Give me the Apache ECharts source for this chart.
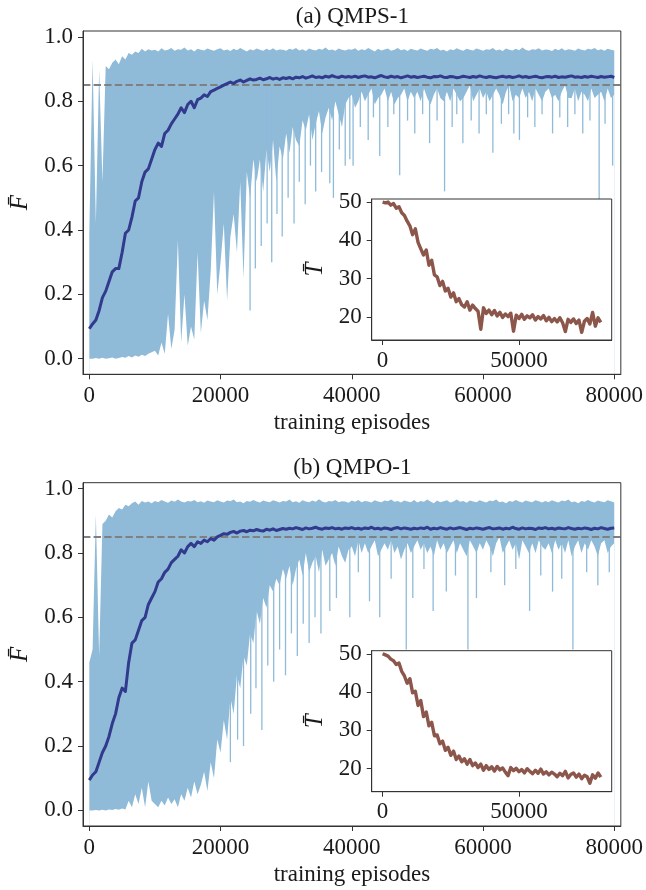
<!DOCTYPE html>
<html><head><meta charset="utf-8">
<script src="https://cdn.jsdelivr.net/npm/echarts@6/dist/echarts.min.js"></script>
<style>html,body{margin:0;padding:0;background:#fff}#c{width:646px;height:890px}</style>
</head><body><div id="c"></div>
<script>
// ---------------- data ----------------
const STEP_MAIN = 500;    // episodes between samples of the main curves
const STEP_INSET = 1000;  // episodes between samples of the inset curves
const xTicks = [0, 20000, 40000, 60000, 80000];
const yTicks = [0, 0.2, 0.4, 0.6, 0.8, 1.0];
const insetXTicks = [0, 50000];
const insetYTicks = [20, 30, 40, 50];
const threshold = 0.85;
const titles = ['(a) QMPS-1', '(b) QMPO-1'];
const xLabel = 'training episodes';
const yLabel = 'F\u0304';
const insetYLabel = 'T\u0304';

const meanA = [
0.093,0.108,0.12,0.15,0.19,0.21,0.24,0.27,0.28,0.28,0.33,0.39,0.40,0.44,0.49,0.50,0.55,0.58,0.59,0.62,
0.65,0.67,0.66,0.70,0.71,0.73,0.745,0.76,0.78,0.765,0.79,0.80,0.78,0.805,0.81,0.82,0.815,0.83,0.835,0.84,
0.845,0.85,0.855,0.86,0.855,0.862,0.866,0.86,0.865,0.87,0.866,0.868,0.872,0.867,0.87,0.874,0.869,0.872,0.868,0.873,
0.871,0.874,0.87,0.875,0.873,0.877,0.872,0.875,0.879,0.874,0.876,0.873,0.878,0.875,0.88,0.876,0.874,0.878,0.875,0.877,
0.875,0.878,0.874,0.877,0.879,0.875,0.876,0.873,0.877,0.88,0.876,0.874,0.878,0.875,0.877,0.873,0.876,0.879,0.875,0.877,
0.874,0.876,0.878,0.875,0.873,0.877,0.876,0.879,0.875,0.874,0.877,0.876,0.873,0.875,0.878,0.876,0.874,0.877,0.875,0.879,
0.876,0.874,0.877,0.875,0.873,0.876,0.878,0.875,0.877,0.874,0.876,0.879,0.875,0.877,0.874,0.876,0.878,0.875,0.873,0.876,
0.877,0.875,0.878,0.874,0.876,0.875,0.877,0.879,0.875,0.876,0.874,0.877,0.875,0.878,0.876,0.874,0.877,0.875,0.876,0.878,
0.874];
const upperA = [
0.39,0.93,0.42,0.90,0.55,0.91,0.90,0.92,0.93,0.915,0.94,0.93,0.95,0.945,0.955,0.95,0.963,0.955,0.962,0.958,
0.96,0.955,0.965,0.958,0.96,0.966,0.957,0.962,0.96,0.967,0.958,0.962,0.955,0.963,0.96,0.958,0.964,0.96,0.957,0.962,
0.965,0.958,0.961,0.956,0.963,0.959,0.966,0.96,0.955,0.962,0.958,0.964,0.96,0.957,0.963,0.959,0.965,0.958,0.961,0.96,
0.957,0.963,0.96,0.966,0.958,0.962,0.956,0.964,0.96,0.958,0.963,0.96,0.967,0.959,0.961,0.957,0.964,0.96,0.958,0.962,
0.96,0.965,0.957,0.962,0.959,0.966,0.96,0.955,0.963,0.958,0.961,0.964,0.957,0.96,0.966,0.959,0.962,0.956,0.963,0.96,
0.958,0.964,0.96,0.957,0.963,0.961,0.966,0.958,0.96,0.955,0.962,0.959,0.965,0.96,0.957,0.963,0.96,0.958,0.964,0.961,
0.957,0.962,0.96,0.966,0.958,0.961,0.956,0.964,0.96,0.958,0.963,0.959,0.967,0.96,0.957,0.962,0.96,0.965,0.958,0.961,
0.96,0.956,0.963,0.959,0.965,0.958,0.962,0.96,0.957,0.964,0.96,0.958,0.963,0.961,0.966,0.959,0.962,0.957,0.963,0.96,
0.958];
const lowerA = [
0.0,0.0,0.002,0.0,0.003,0.0,0.001,0.004,0.0,0.002,0.005,0.003,0.008,0.004,0.01,0.006,0.012,0.008,0.015,0.02,
0.025,0.01,0.05,0.015,0.14,0.03,0.09,0.37,0.05,0.20,0.04,0.10,0.06,0.33,0.08,0.18,0.12,0.27,0.52,0.20,
0.30,0.42,0.18,0.38,0.45,0.33,0.55,0.25,0.58,0.50,0.62,0.55,0.62,0.52,0.65,0.58,0.68,0.55,0.66,0.62,
0.70,0.64,0.72,0.68,0.66,0.74,0.71,0.76,0.68,0.73,0.77,0.70,0.75,0.78,0.74,0.80,0.76,0.72,0.79,0.81,
0.82,0.78,0.80,0.83,0.80,0.82,0.84,0.79,0.81,0.82,0.84,0.80,0.83,0.79,0.81,0.82,0.84,0.80,0.83,0.81,
0.83,0.80,0.84,0.81,0.79,0.82,0.84,0.81,0.80,0.83,0.80,0.84,0.82,0.80,0.81,0.83,0.85,0.80,0.82,0.84,
0.81,0.83,0.80,0.82,0.84,0.82,0.79,0.83,0.85,0.80,0.82,0.81,0.84,0.81,0.83,0.80,0.84,0.82,0.80,0.83,
0.84,0.81,0.82,0.80,0.83,0.85,0.81,0.81,0.84,0.80,0.83,0.82,0.80,0.84,0.81,0.82,0.83,0.80,0.84,0.81,
0.82];
// single-episode drops of the lower bound: [episode, value]
const spikesA = [
[24500,0.15],[25300,0.28],[26200,0.35],[27100,0.42],[27800,0.30],[28600,0.45],[29400,0.38],[30300,0.50],
[31200,0.42],[32000,0.55],[32900,0.48],[33700,0.60],[34500,0.52],[35400,0.58],[36650,0.545],[37200,0.50],
[38100,0.65],[39000,0.60],[39700,0.62],[40200,0.60],[41300,0.72],[42500,0.68],[43300,0.75],[44260,0.63],
[45500,0.72],[46400,0.76],[47300,0.57],[48500,0.74],[49600,0.70],[50800,0.76],[51860,0.67],[53000,0.74],
[54140,0.52],[55300,0.72],[56000,0.76],[56930,0.67],[58200,0.74],[59400,0.70],[60500,0.76],[61500,0.64],
[62800,0.73],[63900,0.76],[64700,0.70],[65550,0.68],[66800,0.75],[67900,0.72],[69000,0.76],[70600,0.70],
[71700,0.75],[72900,0.72],[74000,0.76],[75200,0.70],[76300,0.74],[77700,0.45],[78600,0.73],[79750,0.60]];

const meanB = [
0.094,0.11,0.12,0.15,0.18,0.20,0.23,0.27,0.30,0.35,0.38,0.37,0.46,0.52,0.53,0.56,0.59,0.60,0.64,0.66,
0.68,0.71,0.72,0.74,0.75,0.77,0.78,0.79,0.81,0.80,0.82,0.83,0.82,0.835,0.83,0.84,0.835,0.845,0.84,0.85,
0.855,0.86,0.858,0.864,0.867,0.862,0.868,0.87,0.866,0.871,0.869,0.873,0.87,0.868,0.874,0.871,0.875,0.87,0.873,0.876,
0.874,0.877,0.875,0.879,0.876,0.873,0.878,0.875,0.877,0.88,0.876,0.874,0.878,0.876,0.879,0.875,0.877,0.874,0.878,0.876,
0.879,0.875,0.877,0.874,0.878,0.876,0.88,0.875,0.877,0.874,0.878,0.876,0.873,0.877,0.879,0.875,0.878,0.876,0.874,0.877,
0.875,0.878,0.876,0.88,0.874,0.877,0.875,0.879,0.876,0.874,0.878,0.875,0.877,0.879,0.876,0.873,0.877,0.875,0.878,0.876,
0.874,0.877,0.879,0.875,0.876,0.878,0.874,0.877,0.875,0.88,0.876,0.874,0.878,0.875,0.877,0.876,0.873,0.878,0.876,0.879,
0.875,0.877,0.874,0.878,0.876,0.875,0.879,0.876,0.874,0.877,0.875,0.878,0.876,0.873,0.877,0.875,0.879,0.876,0.874,0.877,
0.878];
const upperB = [
0.46,0.50,0.92,0.48,0.89,0.90,0.92,0.91,0.93,0.94,0.935,0.95,0.945,0.955,0.96,0.95,0.962,0.957,0.96,0.955,
0.962,0.958,0.965,0.96,0.956,0.963,0.959,0.966,0.96,0.957,0.962,0.96,0.965,0.958,0.961,0.956,0.963,0.96,0.958,0.964,
0.96,0.957,0.963,0.961,0.966,0.958,0.96,0.955,0.962,0.959,0.965,0.96,0.957,0.963,0.96,0.958,0.964,0.961,0.957,0.962,
0.96,0.966,0.958,0.961,0.956,0.964,0.96,0.958,0.963,0.959,0.967,0.96,0.957,0.962,0.96,0.965,0.958,0.961,0.96,0.956,
0.963,0.959,0.965,0.958,0.962,0.96,0.957,0.964,0.96,0.958,0.963,0.961,0.966,0.959,0.962,0.957,0.963,0.96,0.958,0.965,
0.957,0.962,0.959,0.966,0.96,0.955,0.963,0.958,0.961,0.964,0.957,0.96,0.966,0.959,0.962,0.956,0.963,0.96,0.958,0.964,
0.96,0.957,0.963,0.961,0.966,0.958,0.96,0.955,0.962,0.959,0.965,0.96,0.957,0.963,0.96,0.958,0.964,0.961,0.957,0.962,
0.958,0.964,0.96,0.957,0.963,0.961,0.966,0.958,0.96,0.955,0.962,0.959,0.965,0.96,0.957,0.963,0.96,0.958,0.964,0.961,
0.957];
const lowerB = [
0.0,0.0,0.001,0.0,0.002,0.0,0.003,0.001,0.004,0.002,0.006,0.003,0.03,0.01,0.05,0.02,0.07,0.01,0.09,0.03,
0.02,0.01,0.03,0.015,0.04,0.02,0.035,0.01,0.05,0.03,0.07,0.04,0.09,0.05,0.08,0.12,0.06,0.15,0.10,0.22,
0.18,0.28,0.22,0.35,0.30,0.42,0.38,0.48,0.45,0.55,0.52,0.62,0.58,0.66,0.63,0.70,0.68,0.72,0.70,0.75,
0.72,0.76,0.70,0.75,0.78,0.73,0.80,0.74,0.77,0.79,0.74,0.81,0.76,0.78,0.80,0.76,0.82,0.79,0.77,0.81,
0.82,0.79,0.84,0.80,0.83,0.80,0.82,0.84,0.79,0.81,0.83,0.81,0.84,0.80,0.82,0.78,0.81,0.83,0.80,0.82,
0.84,0.81,0.83,0.80,0.82,0.79,0.84,0.81,0.83,0.80,0.82,0.84,0.80,0.83,0.81,0.79,0.84,0.82,0.80,0.83,
0.81,0.84,0.82,0.79,0.83,0.85,0.80,0.82,0.84,0.81,0.83,0.78,0.84,0.82,0.80,0.83,0.80,0.84,0.82,0.81,
0.83,0.80,0.84,0.81,0.83,0.80,0.84,0.79,0.82,0.84,0.80,0.83,0.81,0.84,0.82,0.79,0.83,0.84,0.80,0.82,
0.83];
const spikesB = [
[21500,0.15],[22600,0.22],[23500,0.20],[24600,0.30],[25400,0.38],[26300,0.25],[27200,0.45],[28100,0.40],
[29000,0.50],[29900,0.42],[30800,0.55],[31700,0.48],[32600,0.58],[33500,0.52],[34400,0.60],[35300,0.55],
[36650,0.62],[37660,0.66],[39700,0.60],[41000,0.74],[42700,0.65],[44260,0.60],[46000,0.72],[48300,0.50],
[49300,0.66],[51000,0.75],[52400,0.62],[54400,0.68],[55800,0.73],[57700,0.50],[59000,0.66],[61200,0.74],
[63300,0.70],[65000,0.75],[67100,0.62],[68800,0.73],[70600,0.68],[72000,0.72],[73700,0.50],[75800,0.74],
[77500,0.70],[79240,0.74]];

const stepsA = [
50,49.8,50,49.2,49.6,48.4,48.8,47.2,46.5,45,43.8,41.5,43,39.5,37.8,36.2,37.5,33.5,34.8,31,
30.5,28.2,29.3,26.8,27.5,25.2,26.3,24,24.8,23.2,22.6,24,21.8,23.1,22.2,21.5,16.8,22.4,20.9,21.8,
20.6,21.7,20.3,21.2,19.9,20.8,20.1,21,16.3,20.5,19.6,20.7,19.4,20.3,19.8,20.6,19.2,20.1,19.5,20.4,
19,19.9,18.8,19.6,18.7,19.8,18.5,16.2,19.4,18.6,19.5,18.3,19.2,16,18.9,19.6,18.2,21.2,17.6,19.8,18.6];
const stepsB = [
50,49.7,49.4,48.6,48.2,47.2,47.6,45.4,44.2,42.3,43.5,39.8,40.2,36.5,37.8,33.6,34.8,31.2,32.1,28.6,
28.8,26.5,27.2,24.8,25.6,23.5,24.6,22.4,23.3,21.8,22.6,21.2,22.4,20.8,21.5,20.3,21.2,19.6,20.8,19.8,
20.5,19.4,20.6,19.7,20.2,19.1,18.2,20.3,19.5,20.1,19.2,19.8,18.9,20,19.3,18.7,19.6,18.8,19.9,18.6,
19.2,18.4,19.1,18.6,17.9,18.8,18.2,19.3,17.6,18.5,18.9,17.8,18.6,17.4,18.3,17.9,16.2,18.4,17.5,18.9,17.8];

// ---------------- styling / layout ----------------
const FONT = "'Liberation Serif', 'DejaVu Serif', serif";
const TXT = '#1a1a1a', AX = '#333';
const BAND = '#8fbbd9', MEAN = '#313a8c', BROWN = '#8c564b';
const SPIKE_TOP = 0.9;
const panels = [
  {mean: meanA, upper: upperA, lower: lowerA, spikes: spikesA, steps: stepsA, top: 31,    insetTop: 199},
  {mean: meanB, upper: upperB, lower: lowerB, spikes: spikesB, steps: stepsB, top: 482.7, insetTop: 650.7}
];
const pairs = (arr, step) => arr.map((v, i) => [i * step, v]);
const plain = v => String(v);

const grid = [], xAxis = [], yAxis = [], series = [], graphic = [];
panels.forEach((p, k) => {
  const gMain = grid.length, gIn = gMain + 1;
  grid.push({left: 82.7, top: p.top, width: 539.3, height: 343.3, show: true,
             borderColor: AX, borderWidth: 1, backgroundColor: 'transparent', z: 8});
  grid.push({left: 371.7, top: p.insetTop, width: 240, height: 141, show: true,
             borderColor: AX, borderWidth: 1, backgroundColor: '#fff', z: 10});
  const lab = {color: TXT, fontFamily: FONT, fontSize: 23};
  xAxis.push({gridIndex: gMain, type: 'value', min: -960, max: 81000, z: 9,
    axisLine: {show: true, onZero: false, lineStyle: {color: AX, width: 1}},
    axisTick: {show: true, customValues: xTicks, length: 5, lineStyle: {color: AX}},
    axisLabel: Object.assign({customValues: xTicks, margin: 10, formatter: plain}, lab),
    splitLine: {show: false},
    name: xLabel, nameLocation: 'middle', nameGap: 37,
    nameTextStyle: {color: TXT, fontFamily: FONT, fontSize: 23}});
  yAxis.push({gridIndex: gMain, type: 'value', min: -0.0485, max: 1.0185, z: 9,
    axisLine: {show: true, onZero: false, lineStyle: {color: AX, width: 1}},
    axisTick: {show: true, customValues: yTicks, length: 5, lineStyle: {color: AX}},
    axisLabel: Object.assign({customValues: yTicks, margin: 10, formatter: v => v.toFixed(1)}, lab),
    splitLine: {show: false},
    name: yLabel, nameLocation: 'middle', nameGap: 50, nameRotate: 90,
    nameTextStyle: {color: TXT, fontFamily: FONT, fontSize: 25, fontStyle: 'italic'}});
  xAxis.push({gridIndex: gIn, type: 'value', min: -4000, max: 84000, z: 12,
    axisLine: {show: true, onZero: false, lineStyle: {color: AX, width: 1}},
    axisTick: {show: true, customValues: insetXTicks, length: 5, lineStyle: {color: AX}},
    axisLabel: Object.assign({customValues: insetXTicks, margin: 9, formatter: plain}, lab),
    splitLine: {show: false}});
  yAxis.push({gridIndex: gIn, type: 'value', min: 14, max: 50.8, z: 12,
    axisLine: {show: true, onZero: false, lineStyle: {color: AX, width: 1}},
    axisTick: {show: true, customValues: insetYTicks, length: 5, lineStyle: {color: AX}},
    axisLabel: Object.assign({customValues: insetYTicks, margin: 10, formatter: plain}, lab),
    splitLine: {show: false},
    name: insetYLabel, nameLocation: 'middle', nameGap: 44, nameRotate: 90,
    nameTextStyle: {color: TXT, fontFamily: FONT, fontSize: 25, fontStyle: 'italic'}});

  const common = {type: 'line', xAxisIndex: gMain, yAxisIndex: gMain, symbol: 'none',
                  showSymbol: false, silent: true, animation: false};
  series.push(Object.assign({}, common, {
    data: pairs(p.upper, STEP_MAIN), z: 2,
    lineStyle: {width: 0, opacity: 0},
    areaStyle: {color: BAND, opacity: 1, origin: 'start'},
    markLine: {silent: true, symbol: 'none', z: 5, label: {show: false},
      lineStyle: {color: '#808080', type: [7.4, 3.2], width: 2},
      data: [{yAxis: threshold}]}
  }));
  series.push(Object.assign({}, common, {
    data: pairs(p.lower, STEP_MAIN), z: 3,
    lineStyle: {width: 0, opacity: 0},
    areaStyle: {color: '#ffffff', opacity: 1, origin: 'start'}
  }));
  series.push({type: 'custom', xAxisIndex: gMain, yAxisIndex: gMain, silent: true, animation: false, z: 4,
    data: p.spikes,
    renderItem: (params, api) => {
      const a = api.coord([api.value(0), api.value(1)]);
      const b = api.coord([api.value(0), SPIKE_TOP]);
      return {type: 'line', shape: {x1: a[0], y1: a[1], x2: b[0], y2: b[1]},
              style: {stroke: BAND, lineWidth: 1.3}};
    }});
  series.push(Object.assign({}, common, {
    data: pairs(p.mean, STEP_MAIN), z: 6,
    lineStyle: {color: MEAN, width: 3, join: 'round'}
  }));
  series.push({type: 'line', xAxisIndex: gIn, yAxisIndex: gIn, symbol: 'none', showSymbol: false,
    silent: true, animation: false, z: 11,
    data: pairs(p.steps, STEP_INSET),
    lineStyle: {color: BROWN, width: 3.4, join: 'round'}});

  graphic.push({type: 'text', x: 352.4, y: p.top - 14.5, z: 20,
    style: {text: titles[k], fill: TXT, font: '23px ' + FONT,
            align: 'center', verticalAlign: 'middle', textAlign: 'center', textVerticalAlign: 'middle'}});
});

const chart = echarts.init(document.getElementById('c'), null, {renderer: 'canvas'});
chart.setOption({animation: false, backgroundColor: '#fff', grid, xAxis, yAxis, series, graphic});
</script>
</body></html>
